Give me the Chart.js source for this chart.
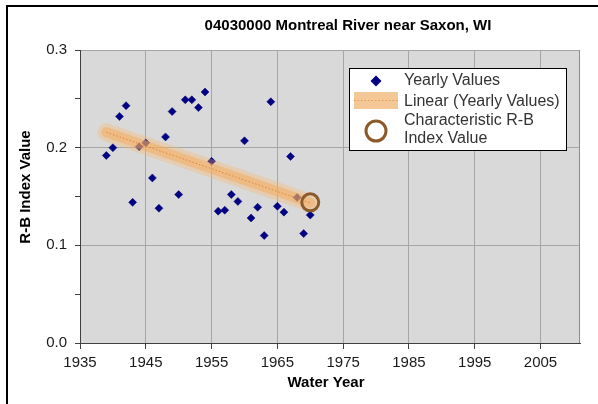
<!DOCTYPE html>
<html>
<head>
<meta charset="utf-8">
<script src="https://cdn.jsdelivr.net/npm/chart.js@4.4.0/dist/chart.umd.min.js"></script>
<style>
  html, body { margin: 0; padding: 0; background: #ffffff; }
  #wrap { width: 598px; height: 404px; position: relative; }
</style>
</head>
<body>
<div id="wrap"><canvas id="c" width="598" height="404"></canvas></div>
<script>
// ---- data ----
const chartTitle = '04030000 Montreal River near Saxon, WI';
const xTitle = 'Water Year';
const yTitle = 'R-B Index Value';
const years = [1939, 1940, 1941, 1942, 1943, 1944, 1945, 1946, 1947, 1948, 1949, 1950, 1951, 1952, 1953, 1954,
               1955, 1956, 1957, 1958, 1959, 1960, 1961, 1962, 1963, 1964, 1965, 1966, 1967, 1968, 1969, 1970];
const yearlyValues = [0.192, 0.200, 0.232, 0.243, 0.144, 0.201, 0.205, 0.169, 0.138, 0.211, 0.237, 0.152, 0.249, 0.249, 0.241, 0.257,
                      0.186, 0.135, 0.136, 0.152, 0.145, 0.207, 0.128, 0.139, 0.110, 0.247, 0.140, 0.134, 0.191, 0.149, 0.112, 0.131];
const trendYears = [1939, 1970];
const trendValues = [0.2157, 0.1435];
const charYear = [1970];
const charValue = [0.144];
const xTickValues = [1935, 1945, 1955, 1965, 1975, 1985, 1995, 2005];
const yTickValues = [0, 0.05, 0.1, 0.15, 0.2, 0.25, 0.3];
const yLabeledTicks = [0, 0.1, 0.2, 0.3];
const legendLabels = ['Yearly Values', 'Linear (Yearly Values)', ['Characteristic R-B', 'Index Value']];

const pts = (xs, ys) => xs.map((x, i) => ({ x: x, y: ys[i] }));
const isLabeled = v => yLabeledTicks.some(t => Math.abs(t - v) < 1e-6);

const decorPlugin = {
  id: 'decor',
  beforeDraw(chart) {
    const { ctx, chartArea: a } = chart;
    ctx.save();
    ctx.fillStyle = '#ffffff';
    ctx.fillRect(0, 0, chart.width, chart.height);
    // outer frame
    ctx.strokeStyle = '#000000';
    ctx.lineWidth = 2;
    ctx.strokeRect(7, 6, 700, 600);
    // plot background
    ctx.fillStyle = '#d9d9d9';
    ctx.fillRect(a.left, a.top, a.right - a.left, a.bottom - a.top);
    ctx.restore();
  },
  beforeDatasetsDraw(chart) {
    const { ctx, chartArea: a } = chart;
    ctx.save();
    ctx.strokeStyle = '#8c8c8c';
    ctx.lineWidth = 1;
    ctx.beginPath();
    ctx.moveTo(a.right - 0.5, a.top);
    ctx.lineTo(a.right - 0.5, a.bottom);
    ctx.stroke();
    ctx.restore();
  },
  afterDraw(chart) {
    const { ctx, chartArea: a } = chart;
    ctx.save();
    // chart title
    ctx.fillStyle = '#000000';
    ctx.font = 'bold 15px "Liberation Sans", Arial, sans-serif';
    ctx.textAlign = 'center';
    ctx.textBaseline = 'middle';
    ctx.fillText(chartTitle, 348, 26);
    // axis titles
    ctx.fillText(xTitle, 326, 383);
    ctx.save();
    ctx.translate(26, 187);
    ctx.rotate(-Math.PI / 2);
    ctx.fillText(yTitle, 0, 0);
    ctx.restore();

    // legend
    const L = 349.5, T = 68.5, W = 217, H = 82;
    ctx.fillStyle = '#ffffff';
    ctx.fillRect(L, T, W, H);
    ctx.strokeStyle = '#000000';
    ctx.lineWidth = 1;
    ctx.strokeRect(L, T, W, H);
    const mx = 376;
    // diamond
    ctx.fillStyle = '#000080';
    ctx.beginPath();
    ctx.moveTo(mx, 81 - 5.5); ctx.lineTo(mx + 5.5, 81); ctx.lineTo(mx, 81 + 5.5); ctx.lineTo(mx - 5.5, 81);
    ctx.closePath(); ctx.fill();
    // trend swatch
    ctx.fillStyle = '#f4c796';
    ctx.fillRect(354, 92, 44, 17);
    ctx.strokeStyle = '#e29a58';
    ctx.setLineDash([1.5, 2]);
    ctx.beginPath(); ctx.moveTo(354, 100.5); ctx.lineTo(398, 100.5); ctx.stroke();
    ctx.setLineDash([]);
    // circle
    ctx.strokeStyle = '#8b5a2b';
    ctx.lineWidth = 3;
    ctx.beginPath(); ctx.arc(mx, 131, 10, 0, Math.PI * 2); ctx.stroke();
    // legend text
    ctx.fillStyle = '#333333';
    ctx.font = '16px "Liberation Sans", Arial, sans-serif';
    ctx.textAlign = 'left';
    ctx.textBaseline = 'middle';
    ctx.fillText(legendLabels[0], 404, 81);
    ctx.fillText(legendLabels[1], 404, 102);
    ctx.fillText(legendLabels[2][0], 404, 121);
    ctx.fillText(legendLabels[2][1], 404, 139);
    ctx.restore();
  }
};

new Chart(document.getElementById('c'), {
  type: 'scatter',
  data: {
    datasets: [
      {
        label: 'Characteristic R-B Index Value',
        data: pts(charYear, charValue),
        pointStyle: 'circle',
        pointRadius: 8.5,
        pointBorderWidth: 3,
        borderColor: '#8b5a2b',
        backgroundColor: 'rgba(0,0,0,0)',
        order: 0
      },
      {
        label: 'Linear (Yearly Values)',
        data: pts(trendYears, trendValues),
        showLine: true,
        pointRadius: 0,
        borderWidth: 1,
        borderDash: [1.5, 2],
        borderColor: 'rgba(226,125,45,0.85)',
        order: 1
      },
      {
        label: 'trend band',
        data: pts(trendYears, trendValues),
        showLine: true,
        pointRadius: 0,
        borderWidth: 10,
        borderCapStyle: 'round',
        borderColor: 'rgba(247,170,85,0.5)',
        order: 2
      },
      {
        label: 'trend glow',
        data: pts(trendYears, trendValues),
        showLine: true,
        pointRadius: 0,
        borderWidth: 18,
        borderCapStyle: 'round',
        borderColor: 'rgba(250,182,105,0.35)',
        order: 3
      },
      {
        label: 'Yearly Values',
        data: pts(years, yearlyValues),
        pointStyle: 'rectRot',
        pointRadius: 4,
        pointBorderWidth: 0.5,
        borderColor: '#000080',
        backgroundColor: '#000080',
        order: 4
      }
    ]
  },
  options: {
    responsive: false,
    animation: false,
    layout: { padding: { left: 0, top: 50, right: 18, bottom: 0 } },
    plugins: { legend: { display: false }, title: { display: false }, tooltip: { enabled: false } },
    scales: {
      x: {
        type: 'linear',
        min: 1935,
        max: 2011,
        afterBuildTicks: s => { s.ticks = xTickValues.map(v => ({ value: v })); },
        afterFit: s => { s.height = 61; },
        grid: { color: '#a6a6a6', tickColor: '#404040', tickLength: 6, lineWidth: 1 },
        border: { color: '#404040', width: 1 },
        ticks: {
          padding: 5,
          color: '#1a1a1a',
          font: { family: '"Liberation Sans", Arial, sans-serif', size: 15 },
          maxRotation: 0,
          callback: v => String(v)
        }
      },
      y: {
        type: 'linear',
        min: 0,
        max: 0.3,
        afterBuildTicks: s => { s.ticks = yTickValues.map(v => ({ value: v })); },
        afterFit: s => { s.width = 80; },
        grid: {
          color: c => (c.tick && isLabeled(c.tick.value)) ? '#a6a6a6' : 'rgba(0,0,0,0)',
          tickColor: '#404040',
          tickLength: 5,
          lineWidth: 1
        },
        border: { color: '#404040', width: 1 },
        ticks: {
          padding: 8,
          color: '#1a1a1a',
          font: { family: '"Liberation Sans", Arial, sans-serif', size: 15 },
          callback: v => isLabeled(v) ? v.toFixed(1) : ''
        }
      }
    }
  },
  plugins: [decorPlugin]
});
</script>
</body>
</html>
